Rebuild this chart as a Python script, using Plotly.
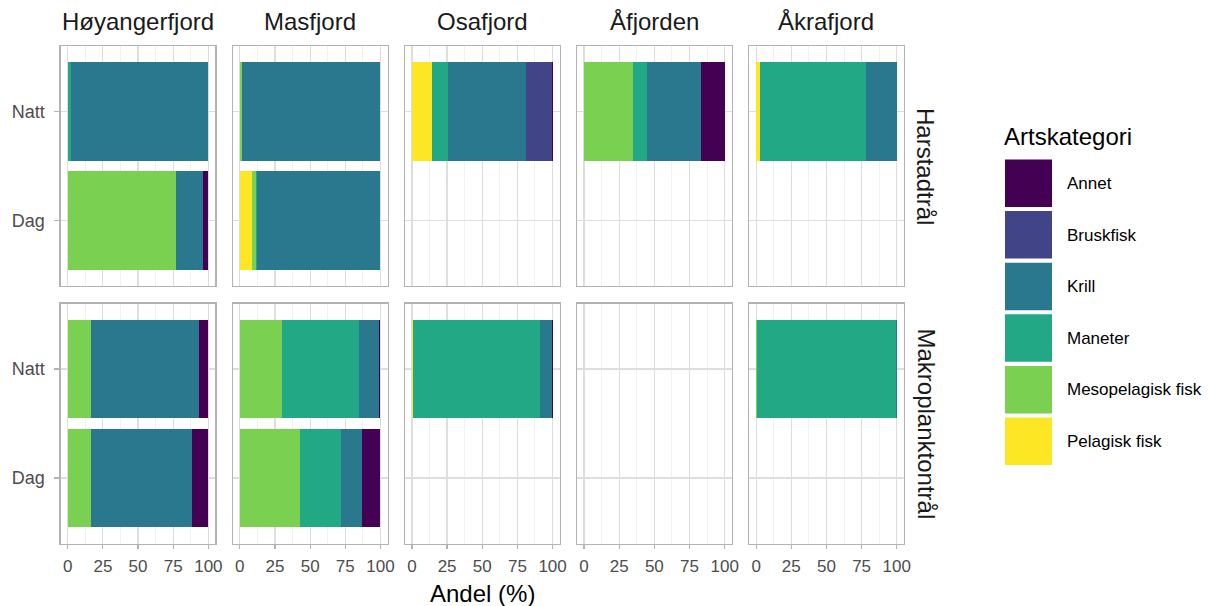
import plotly.graph_objects as go

W, H = 1227, 606

fjords = ["Høyangerfjord", "Masfjord", "Osafjord", "Åfjorden", "Åkrafjord"]
trawls = ["Harstadtrål", "Makroplanktontrål"]
periods = ["Dag", "Natt"]
categories = ["Pelagisk fisk", "Mesopelagisk fisk", "Maneter", "Krill", "Bruskfisk", "Annet"]
colors = ["#FDE725", "#7AD151", "#22A884", "#2A788E", "#414487", "#440154"]
x_ticks = [0, 25, 50, 75, 100]

# Order of each list: trawl -> fjord -> (Dag, Natt); None = no data
pelagisk_fisk = [0, 0, 9.0, 0, None, 14.1, None, 0, None, 2.4,
                 0, 0, 0, 0, None, 0.7, None, None, None, 0]
mesopelagisk_fisk = [76.9, 0, 2.3, 1.5, None, 0, None, 34.6, None, 0,
                     16.2, 16.7, 42.7, 30.2, None, 0, None, None, None, 0.7]
maneter = [0, 2.1, 1.0, 0, None, 11.8, None, 9.9, None, 76.0,
           0, 0, 29.4, 54.7, None, 90.1, None, None, None, 98.8]
krill = [19.1, 97.9, 87.2, 98.5, None, 55.1, None, 38.8, None, 21.6,
         72.0, 76.5, 14.5, 13.9, None, 8.5, None, None, None, 0.5]
bruskfisk = [0, 0, 0, 0, None, 18.3, None, 0, None, 0,
             0, 0, 0, 0, None, 0, None, None, None, 0]
annet = [4.0, 0, 0.5, 0, None, 0.7, None, 16.7, None, 0,
         11.8, 6.8, 13.4, 1.2, None, 0.7, None, None, None, 0]

series = [pelagisk_fisk, mesopelagisk_fisk, maneter, krill, bruskfisk, annet]

FONT = "Liberation Sans, Arial, sans-serif"
BORDER = "#B3B3B3"
GRID = "#DEDEDE"
MINOR = "#EBEBEB"
TICKTXT = "#4D4D4D"

col_left = [60.7 + 172.1 * i for i in range(5)]
col_w = 154.7
row_top = [46.0, 303.5]
row_h = 240.0

fig = go.Figure()
layout = {}
for r, trawl in enumerate(trawls):
    for c, fjord in enumerate(fjords):
        p = r * 5 + c
        n = p + 1
        xa = "x" if n == 1 else f"x{n}"
        ya = "y" if n == 1 else f"y{n}"
        for k, cat in enumerate(categories):
            vals = series[k][p * 2:p * 2 + 2]
            fig.add_trace(go.Bar(
                x=vals, y=periods, orientation="h", name=cat,
                marker=dict(color=colors[k], line=dict(width=0)),
                xaxis=xa, yaxis=ya, showlegend=False, hoverinfo="skip",
            ))
        x0 = col_left[c] / W
        x1 = (col_left[c] + col_w) / W
        y1 = 1 - row_top[r] / H
        y0 = 1 - (row_top[r] + row_h) / H
        bottom = (r == 1)
        left = (c == 0)
        layout[f"xaxis{'' if n == 1 else n}"] = dict(
            domain=[x0, x1], anchor=ya, range=[-5, 105],
            tickmode="array", tickvals=x_ticks, ticktext=[str(v) for v in x_ticks],
            showticklabels=bottom, ticks="outside" if bottom else "",
            ticklen=4, tickwidth=1.2, tickcolor=BORDER, ticklabelstandoff=3,
            tickfont=dict(family=FONT, size=17, color=TICKTXT),
            showgrid=True, gridcolor=GRID, gridwidth=1.2,
            minor=dict(tickvals=[12.5, 37.5, 62.5, 87.5], showgrid=True,
                       gridcolor=MINOR, gridwidth=0.7, ticks=""),
            showline=True, mirror=True, linecolor=BORDER, linewidth=1.3,
            zeroline=False, fixedrange=True,
        )
        layout[f"yaxis{'' if n == 1 else n}"] = dict(
            domain=[y0, y1], anchor=xa, type="category",
            categoryorder="array", categoryarray=periods, range=[-0.6, 1.6],
            showticklabels=left, ticks="outside" if left else "",
            ticklen=5, tickwidth=1.2, tickcolor=BORDER, ticklabelstandoff=6,
            tickfont=dict(family=FONT, size=18, color=TICKTXT),
            showgrid=True, gridcolor=GRID, gridwidth=1.2,
            showline=True, mirror=True, linecolor=BORDER, linewidth=1.3,
            zeroline=False, fixedrange=True,
        )

TITLE_SIZE = 24
annotations = []
for c, fjord in enumerate(fjords):
    annotations.append(dict(
        text=fjord, x=(col_left[c] + col_w / 2) / W, y=1 - 22 / H,
        xref="paper", yref="paper", showarrow=False, xanchor="center", yanchor="middle",
        font=dict(family=FONT, size=TITLE_SIZE, color="#1A1A1A"),
    ))
for r, trawl in enumerate(trawls):
    annotations.append(dict(
        text=trawl, x=926 / W, y=1 - (row_top[r] + row_h / 2) / H,
        xref="paper", yref="paper", showarrow=False, xanchor="center", yanchor="middle",
        textangle=90, font=dict(family=FONT, size=TITLE_SIZE, color="#1A1A1A"),
    ))
annotations.append(dict(
    text="Andel (%)", x=(col_left[0] + col_left[4] + col_w) / 2 / W, y=1 - 593 / H,
    xref="paper", yref="paper", showarrow=False, xanchor="center", yanchor="middle",
    font=dict(family=FONT, size=TITLE_SIZE, color="#000000"),
))
annotations.append(dict(
    text="Artskategori", x=1002 / W, y=1 - 136 / H,
    xref="paper", yref="paper", showarrow=False, xanchor="left", yanchor="middle",
    font=dict(family=FONT, size=TITLE_SIZE, color="#000000"),
))

shapes = []
legend_order = list(range(len(categories)))[::-1]
for i, k in enumerate(legend_order):
    top = 159.5 + 51.6 * i
    shapes.append(dict(
        type="rect", xref="paper", yref="paper",
        x0=1005 / W, x1=1052 / W, y0=1 - (top + 47.5) / H, y1=1 - top / H,
        fillcolor=colors[k], line=dict(width=0), layer="above",
    ))
    annotations.append(dict(
        text=categories[k], x=1065 / W, y=1 - (top + 24) / H,
        xref="paper", yref="paper", showarrow=False, xanchor="left", yanchor="middle",
        font=dict(family=FONT, size=17, color="#000000"),
    ))

fig.update_layout(
    **layout,
    barmode="stack", bargap=0.1, autosize=False,
    width=W, height=H, margin=dict(l=0, r=0, t=0, b=0, autoexpand=False),
    paper_bgcolor="white", plot_bgcolor="white",
    annotations=annotations, shapes=shapes, showlegend=False,
)

fig.write_html(
    "out.html",
    config={"displayModeBar": False, "responsive": False, "staticPlot": True},
    post_script="document.documentElement.style.overflow='hidden';"
                "document.body.style.margin='0px';document.body.style.overflow='hidden';",
)
